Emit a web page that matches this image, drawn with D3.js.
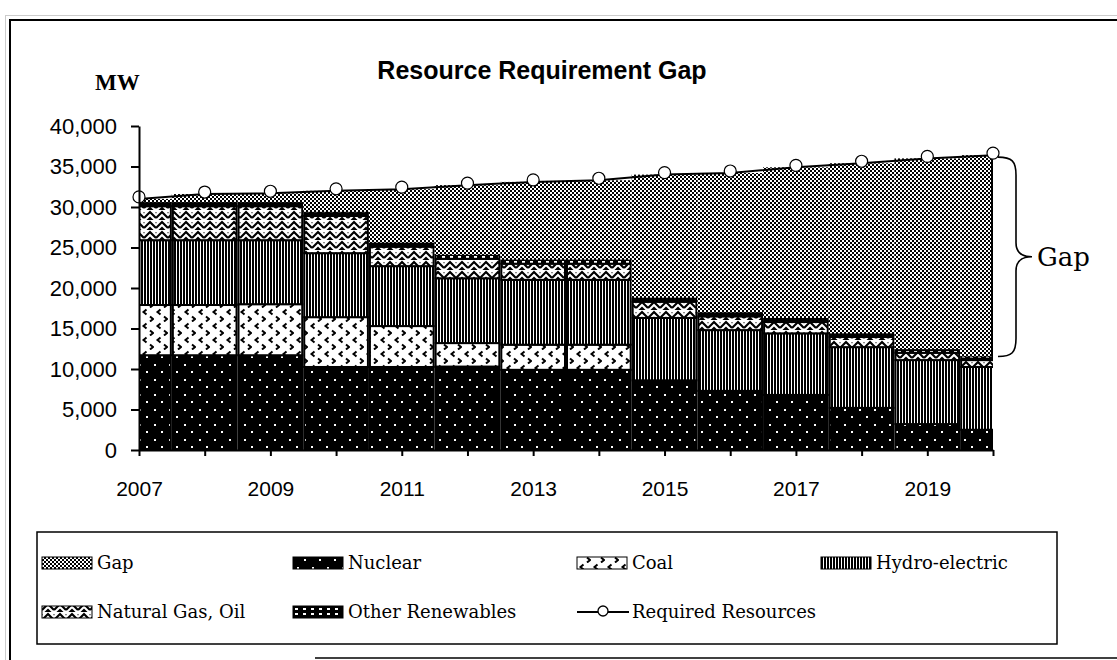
<!DOCTYPE html>
<html>
<head>
<meta charset="utf-8">
<script src="https://cdn.jsdelivr.net/npm/d3@7"></script>
<style>
  body { margin: 0; background: #fff; }
  svg { display: block; }
</style>
</head>
<body>
<div id="chart"></div>
<script>
// values (MW)
const years    = [2007, 2008, 2009, 2010, 2011, 2012, 2013, 2014, 2015, 2016, 2017, 2018, 2019, 2020];
const nuclear  = [11700, 11700, 11700, 10250, 10250, 10300, 9900, 9900, 8600, 7300, 6800, 5200, 3200, 2500];
const coal     = [6200, 6200, 6300, 6150, 5050, 2900, 3100, 3100, 0, 0, 0, 0, 0, 0];
const hydro    = [8000, 8000, 7900, 7900, 7400, 8000, 8000, 8000, 7700, 7500, 7600, 7500, 7900, 7750];
const gasOil   = [4200, 4200, 4200, 4600, 2400, 2400, 2000, 2000, 2000, 1700, 1400, 1250, 900, 850];
const otherRen = [500, 500, 500, 500, 500, 500, 500, 500, 500, 500, 500, 450, 450, 450];
const required = [31000, 31600, 31700, 32000, 32200, 32700, 33100, 33300, 34000, 34200, 34900, 35400, 36000, 36400];
const yTicks   = [0, 5000, 10000, 15000, 20000, 25000, 30000, 35000, 40000];
const xLabels  = [2007, 2009, 2011, 2013, 2015, 2017, 2019];

const seriesNames = ["Nuclear", "Coal", "Hydro-electric", "Natural Gas, Oil", "Other Renewables", "Gap"];
const patIds = {"Nuclear": "pNuc", "Coal": "pCoal", "Hydro-electric": "pHydro",
                "Natural Gas, Oil": "pGas", "Other Renewables": "pOther", "Gap": "pGap"};

const W = 1117, H = 660;
const svg = d3.select("#chart").append("svg").attr("width", W).attr("height", H);

// ---- patterns
const defs = svg.append("defs");
function pattern(id, w, h) {
  return defs.append("pattern").attr("id", id).attr("patternUnits", "userSpaceOnUse")
    .attr("width", w).attr("height", h);
}
let p = pattern("pGap", 4, 4);
p.append("rect").attr("width", 4).attr("height", 4).attr("fill", "#fff");
p.append("rect").attr("x", 0).attr("y", 0).attr("width", 2).attr("height", 2).attr("fill", "#000");
p.append("rect").attr("x", 2).attr("y", 2).attr("width", 2).attr("height", 2).attr("fill", "#000");

p = pattern("pNuc", 15, 15);
p.append("rect").attr("width", 15).attr("height", 15).attr("fill", "#000");
p.append("rect").attr("x", 4).attr("y", 4).attr("width", 2).attr("height", 2).attr("fill", "#fff");
p.append("rect").attr("x", 11).attr("y", 11).attr("width", 2).attr("height", 2).attr("fill", "#fff");

p = pattern("pCoal", 14, 14);
p.append("rect").attr("width", 14).attr("height", 14).attr("fill", "#fff");
p.append("path").attr("d", "M6.5,1.5 L3.5,4 L6.5,6.5").attr("fill", "none").attr("stroke", "#000").attr("stroke-width", 2);
p.append("path").attr("d", "M10,8.5 L13,11 L10,13.5").attr("fill", "none").attr("stroke", "#000").attr("stroke-width", 2);

p = pattern("pHydro", 3, 10);
p.append("rect").attr("width", 3).attr("height", 10).attr("fill", "#fff");
p.append("rect").attr("width", 2).attr("height", 10).attr("fill", "#000");

p = pattern("pGas", 12, 10);
p.append("rect").attr("width", 12).attr("height", 10).attr("fill", "#fff");
p.append("path").attr("d", "M0,8 L6,2 L12,8 M-3,5 L0,2 M12,2 L15,5 M3,11 L6,8 L9,11")
  .attr("fill", "none").attr("stroke", "#000").attr("stroke-width", 2.2);

p = pattern("pOther", 8, 5);
p.append("rect").attr("width", 8).attr("height", 5).attr("fill", "#000");
p.append("rect").attr("x", 2).attr("y", 1).attr("width", 3).attr("height", 2).attr("fill", "#fff");

// ---- frame
svg.append("rect").attr("x", 5.5).attr("y", 15.5).attr("width", 1120).attr("height", 660)
  .attr("fill", "none").attr("stroke", "#999").attr("stroke-dasharray", "1,1");
svg.append("path").attr("d", "M10,662 V20 H1120").attr("fill", "none").attr("stroke", "#000").attr("stroke-width", 2);
svg.append("line").attr("x1", 315).attr("x2", 1120).attr("y1", 658).attr("y2", 658)
  .attr("stroke", "#000").attr("stroke-width", 1.5);

// ---- scales
const plotLeft = 139, plotRight = 993, plotTop = 126, plotBottom = 450;
const x = d3.scaleLinear().domain([2007, 2020]).range([plotLeft, plotRight]);
const y = d3.scaleLinear().domain([0, 40000]).range([plotBottom, plotTop]);
const step = x(2008) - x(2007);

// stacked data, gap = required minus everything else
const rows = years.map((yr, i) => {
  const sum = nuclear[i] + coal[i] + hydro[i] + gasOil[i] + otherRen[i];
  return {year: yr, "Nuclear": nuclear[i], "Coal": coal[i], "Hydro-electric": hydro[i],
          "Natural Gas, Oil": gasOil[i], "Other Renewables": otherRen[i], "Gap": Math.max(0, required[i] - sum)};
});
const stacked = d3.stack().keys(seriesNames)(rows);

defs.append("clipPath").attr("id", "plotClip")
  .append("rect").attr("x", plotLeft).attr("y", 0).attr("width", plotRight - plotLeft).attr("height", plotBottom + 2);

const plot = svg.append("g").attr("clip-path", "url(#plotClip)");
stacked.forEach(layer => {
  const isGap = layer.key === "Gap";
  plot.append("g").selectAll("rect")
    .data(layer.filter(d => d[1] - d[0] > 0))
    .join("rect")
    .attr("x", d => x(d.data.year) - step / 2 + (isGap ? 0 : 1))
    .attr("width", isGap ? step : step - 2)
    .attr("y", d => y(d[1]))
    .attr("height", d => y(d[0]) - y(d[1]))
    .attr("fill", `url(#${patIds[layer.key]})`)
    .attr("stroke", isGap ? "none" : "#000")
    .attr("stroke-width", 2);
});
// right edge of the gap area
const last = stacked[stacked.length - 1][years.length - 1];
svg.append("line").attr("x1", plotRight - 1).attr("x2", plotRight - 1)
  .attr("y1", y(last[1])).attr("y2", y(last[0]))
  .attr("stroke", "#000").attr("stroke-width", 2);

// required resources line
const pts = years.map((yr, i) => [x(yr), y(required[i])]);
svg.append("path").attr("d", d3.line()(pts)).attr("fill", "none").attr("stroke", "#000").attr("stroke-width", 2);
svg.append("g").selectAll("circle").data(pts).join("circle")
  .attr("cx", d => d[0]).attr("cy", d => d[1] - 2).attr("r", 6)
  .attr("fill", "#fff").attr("stroke", "#000").attr("stroke-width", 1.2);

// ---- axes
const yAxis = svg.append("g").attr("transform", `translate(${plotLeft},0)`)
  .call(d3.axisLeft(y).tickValues(yTicks).tickFormat(d3.format(",")).tickSize(8).tickSizeOuter(0).tickPadding(14));
yAxis.select(".domain").attr("stroke-width", 2);
yAxis.selectAll(".tick line").attr("stroke-width", 2);
yAxis.selectAll("text").attr("font-family", "Liberation Sans, Arial, sans-serif").attr("font-size", 22).attr("fill", "#000");

const xAxis = svg.append("g").attr("transform", `translate(0,${plotBottom})`)
  .call(d3.axisBottom(x).tickValues(years).tickFormat(d => xLabels.includes(d) ? String(d) : "")
    .tickSize(6).tickSizeOuter(0).tickPadding(25));
xAxis.select(".domain").attr("stroke-width", 2);
xAxis.selectAll(".tick line").attr("stroke-width", 2);
xAxis.selectAll("text").attr("font-family", "Liberation Sans, Arial, sans-serif").attr("font-size", 21).attr("fill", "#000");

// ---- titles
svg.append("text").attr("x", 542).attr("y", 79).attr("text-anchor", "middle")
  .attr("font-family", "Liberation Sans, Arial, sans-serif").attr("font-weight", "bold").attr("font-size", 25)
  .text("Resource Requirement Gap");
svg.append("text").attr("x", 95).attr("y", 90)
  .attr("font-family", "Liberation Serif, serif").attr("font-weight", "bold").attr("font-size", 23)
  .text("MW");

// gap brace
const gTop = y(required[13]) + 2, gBot = y(last[0]), gMid = (gTop + gBot) / 2;
const bx = 998;
svg.append("path")
  .attr("d", `M${bx},${gTop} C${bx + 14},${gTop} ${bx + 18},${gTop + 4} ${bx + 18},${gTop + 18}
    L${bx + 18},${gMid - 14} C${bx + 18},${gMid - 4} ${bx + 24},${gMid} ${bx + 34},${gMid}
    C${bx + 24},${gMid} ${bx + 18},${gMid + 4} ${bx + 18},${gMid + 14}
    L${bx + 18},${gBot - 18} C${bx + 18},${gBot - 4} ${bx + 14},${gBot} ${bx},${gBot}`)
  .attr("fill", "none").attr("stroke", "#000").attr("stroke-width", 1.6);
svg.append("text").attr("x", 1037).attr("y", gMid + 9)
  .attr("font-family", "DejaVu Serif, serif").attr("font-size", 26).text("Gap");

// ---- legend
svg.append("rect").attr("x", 37).attr("y", 532).attr("width", 1020).attr("height", 112)
  .attr("fill", "#fff").attr("stroke", "#000").attr("stroke-width", 1.5);
const legendItems = [
  {name: "Gap", x: 42, y: 563},
  {name: "Nuclear", x: 293, y: 563},
  {name: "Coal", x: 577, y: 563},
  {name: "Hydro-electric", x: 821, y: 563},
  {name: "Natural Gas, Oil", x: 42, y: 612},
  {name: "Other Renewables", x: 293, y: 612},
  {name: "Required Resources", x: 577, y: 612}
];
const lg = svg.append("g").selectAll("g").data(legendItems).join("g")
  .attr("transform", d => `translate(${d.x},${d.y})`);
lg.each(function(d) {
  const g = d3.select(this);
  if (d.name === "Required Resources") {
    g.append("line").attr("x1", 0).attr("x2", 52).attr("y1", 0).attr("y2", 0).attr("stroke", "#000").attr("stroke-width", 2);
    g.append("circle").attr("cx", 26).attr("cy", -1).attr("r", 5).attr("fill", "#fff").attr("stroke", "#000").attr("stroke-width", 1.3);
  } else {
    g.append("rect").attr("x", 0).attr("y", -6).attr("width", 50).attr("height", 12)
      .attr("fill", `url(#${patIds[d.name]})`).attr("stroke", "#000").attr("stroke-width", 1);
  }
  g.append("text").attr("x", 55).attr("y", 6)
    .attr("font-family", "DejaVu Serif, serif").attr("font-size", 18).text(d.name);
});
</script>
</body>
</html>
